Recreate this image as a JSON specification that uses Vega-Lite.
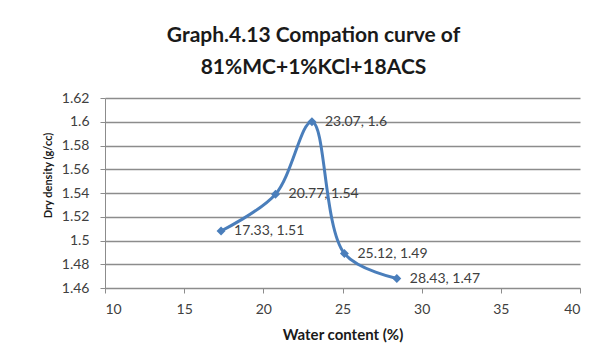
{
  "$schema": "https://vega.github.io/schema/vega-lite/v6.json",
  "width": 475,
  "height": 190,
  "autosize": {"type": "none"},
  "padding": {"left": 105, "top": 98, "right": 27, "bottom": 73},
  "background": "white",
  "title": {
    "text": ["Graph.4.13 Compation curve of", "81%MC+1%KCl+18ACS"],
    "font": "Lato",
    "fontSize": 21,
    "fontWeight": "bold",
    "color": "#1a1a1a",
    "anchor": "middle",
    "dx": -29,
    "lineHeight": 32,
    "offset": 13
  },
  "data": {
    "values": [
      {"water": 17.33, "density": 1.508, "label": "17.33, 1.51"},
      {"water": 20.77, "density": 1.539, "label": "20.77, 1.54"},
      {"water": 23.07, "density": 1.6, "label": "23.07, 1.6"},
      {"water": 25.12, "density": 1.489, "label": "25.12, 1.49"},
      {"water": 28.43, "density": 1.468, "label": "28.43, 1.47"}
    ]
  },
  "config": {
    "view": {"stroke": null},
    "axis": {
      "labelFont": "Lato",
      "labelFontSize": 14,
      "labelColor": "#404040",
      "titleFont": "Lato",
      "titleFontWeight": "bold",
      "titleColor": "#1a1a1a",
      "domainColor": "#8c8c8c",
      "tickColor": "#8c8c8c",
      "gridColor": "#8c8c8c",
      "gridWidth": 1.5
    }
  },
  "encoding": {
    "x": {
      "field": "water",
      "type": "quantitative",
      "scale": {"domain": [10, 40], "nice": false, "zero": false},
      "axis": {
        "title": "Water content (%)",
        "titleFontSize": 15,
        "values": [10, 15, 20, 25, 30, 35, 40],
        "grid": false,
        "tickSize": 5,
        "labelPadding": 9,
        "titlePadding": 11
      }
    },
    "y": {
      "field": "density",
      "type": "quantitative",
      "scale": {"domain": [1.46, 1.62], "nice": false, "zero": false},
      "axis": {
        "title": "Dry density (g/cc)",
        "titleFontSize": 11,
        "titleY": 77,
        "values": [1.46, 1.48, 1.5, 1.52, 1.54, 1.56, 1.58, 1.6, 1.62],
        "format": "~g",
        "grid": true,
        "tickSize": 5,
        "labelPadding": 11,
        "titlePadding": 8
      }
    }
  },
  "layer": [
    {
      "mark": {"type": "line", "interpolate": "catmull-rom", "color": "#4a7ebb", "strokeWidth": 3}
    },
    {
      "mark": {"type": "point", "shape": "diamond", "filled": true, "opacity": 1, "color": "#4a7ebb", "size": 80}
    },
    {
      "mark": {"type": "text", "align": "left", "baseline": "middle", "dx": 13, "font": "Lato", "fontSize": 14, "color": "#404040"},
      "encoding": {"text": {"field": "label"}}
    }
  ]
}
